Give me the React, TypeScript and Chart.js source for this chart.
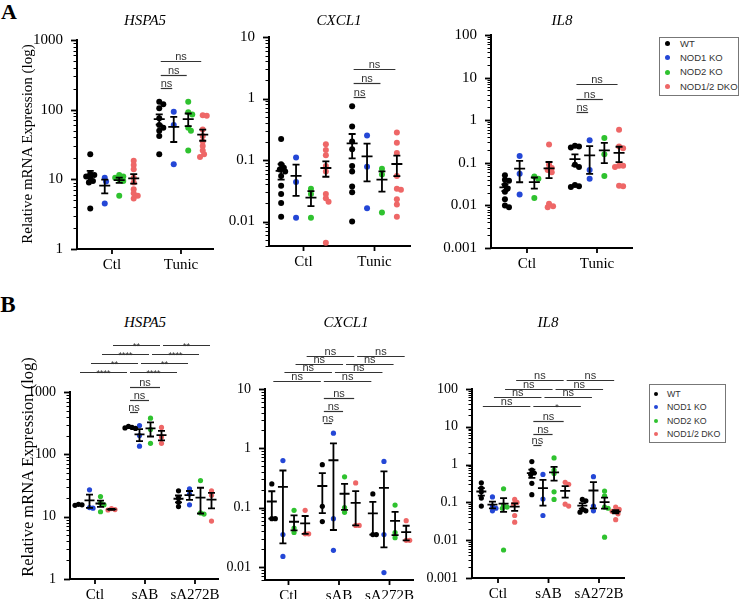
import React, { useEffect, useRef } from 'react';
import { Chart, registerables } from 'chart.js';

Chart.register(...registerables);

const SERIF = '"Liberation Serif", "Times New Roman", Times, serif';
const SANS = '"Liberation Sans", Arial, Helvetica, sans-serif';

const GENOTYPES = ['WT', 'NOD1 KO', 'NOD2 KO', 'NOD1/2 DKO'];
const COLORS = ['#000000', '#2447d6', '#2fc22f', '#ee6767'];

const CATS_A = ['Ctl', 'Tunic'];
const CATS_B = ['Ctl', 'sAB', 'sA272B'];

const TICKS_HSPA5 = [1, 10, 100, 1000];
const TICKS_CXCL1_A = [0.01, 0.1, 1, 10];
const TICKS_CXCL1_B = [0.01, 0.1, 1, 10];
const TICKS_IL8 = [0.001, 0.01, 0.1, 1, 10, 100];

// ---- Panel A: HSPA5 (per genotype: [Ctl, Tunic]) ----
const aHspa5Wt = [[23, 12, 11.5, 11, 10.5, 9.5, 9, 3.8], [130, 120, 105, 75, 60, 55, 50, 42, 23]];
const aHspa5Nod1 = [[10.5, 9.3, 4.5], [93, 60, 16.5]];
const aHspa5Nod2 = [[11.5, 11, 10.5, 10, 9.5, 5.8], [130, 92, 85, 55, 50, 26]];
const aHspa5Dko = [[18.5, 16, 14, 10.5, 9, 7.2, 6.3, 5.8, 5.3], [83, 82, 52, 42, 35, 30, 26, 23, 21]];

// ---- Panel A: CXCL1 ----
const aCxcl1Wt = [[0.22, 0.085, 0.075, 0.07, 0.065, 0.055, 0.038, 0.028, 0.02, 0.012], [0.75, 0.35, 0.2, 0.15, 0.08, 0.065, 0.037, 0.03, 0.01]];
const aCxcl1Nod1 = [[0.11, 0.044, 0.0115], [0.25, 0.078, 0.0165]];
const aCxcl1Nod2 = [[0.034, 0.028, 0.0115], [0.072, 0.058, 0.014]];
const aCxcl1Dko = [[0.18, 0.145, 0.12, 0.08, 0.065, 0.028, 0.024, 0.021, 0.0045], [0.28, 0.19, 0.13, 0.055, 0.034, 0.033, 0.023, 0.019, 0.012]];

// ---- Panel A: IL8 ----
const aIl8Wt = [[0.051, 0.04, 0.038, 0.03, 0.025, 0.021, 0.014, 0.01, 0.009], [0.25, 0.24, 0.23, 0.09, 0.08, 0.03, 0.028, 0.027]];
const aIl8Nod1 = [[0.145, 0.055, 0.018], [0.34, 0.068, 0.042]];
const aIl8Nod2 = [[0.048, 0.042, 0.015], [0.38, 0.158, 0.049]];
const aIl8Dko = [[0.27, 0.09, 0.075, 0.068, 0.06, 0.011, 0.0095, 0.009], [0.6, 0.24, 0.22, 0.085, 0.085, 0.08, 0.029, 0.028]];

// ---- Panel B: HSPA5 (per genotype: [Ctl, sAB, sA272B]) ----
const bHspa5Wt = [[15.8, 15.5, 15.2], [280, 270, 265, 260], [26, 20, 17, 14.5]];
const bHspa5Nod1 = [[27, 14, 13.7], [290, 200, 135], [28, 23, 15.5]];
const bHspa5Nod2 = [[21, 16.5, 15.5, 12], [380, 250, 150], [38, 11.5, 11]];
const bHspa5Dko = [[13.5, 13, 12.8], [270, 190, 150], [26, 22, 8.5]];

// ---- Panel B: CXCL1 ----
const bCxcl1Wt = [[0.25, 0.065, 0.065], [0.53, 0.105, 0.058], [0.17, 0.035, 0.035]];
const bCxcl1Nod1 = [[0.62, 0.035, 0.015], [1.8, 0.065, 0.019], [0.6, 0.035, 0.008]];
const bCxcl1Nod2 = [[0.09, 0.045, 0.038], [0.33, 0.1, 0.083], [0.11, 0.038, 0.031]];
const bCxcl1Dko = [[0.09, 0.036, 0.036], [0.26, 0.05, 0.05], [0.06, 0.028, 0.028]];

// ---- Panel B: IL8 ----
const bIl8Wt = [[0.33, 0.24, 0.19, 0.13, 0.08], [1.2, 0.72, 0.6, 0.55, 0.32, 0.16], [0.12, 0.11, 0.065, 0.06, 0.055]];
const bIl8Nod1 = [[0.14, 0.08, 0.07, 0.06], [0.55, 0.123, 0.045], [0.48, 0.08, 0.06]];
const bIl8Nod2 = [[0.23, 0.085, 0.075, 0.07, 0.0055], [1.5, 0.72, 0.58, 0.19, 0.12], [0.2, 0.15, 0.075, 0.07, 0.012]];
const bIl8Dko = [[0.12, 0.1, 0.09, 0.045, 0.03], [0.34, 0.3, 0.09, 0.08], [0.075, 0.065, 0.06, 0.058, 0.05, 0.035]];

// significance labels
const SIG_B_HSPA5 = [['****', '****'], ['**', '**'], ['****', '****'], ['**', '**']];
const SIG_B_CXCL1 = [['ns', 'ns'], ['ns', 'ns'], ['ns', 'ns'], ['ns', 'ns']];
const SIG_B_IL8 = [['ns', '*'], ['ns', 'ns'], ['ns', 'ns'], ['ns', 'ns']];

type Bracket = { a: [number, number]; b: [number, number]; dy: number; label: string };

const OFFSETS_A = [-0.315, -0.105, 0.105, 0.315];
const OFFSETS_B = [-0.33, -0.11, 0.11, 0.33];

function bracketsA(rows: number[]): Bracket[] {
  return [1, 2, 3].map((g, i) => ({ a: [1, 0], b: [1, g], dy: rows[i], label: 'ns' }));
}

function bracketsB(nsRows: number[], rows: number[], labels: string[][]): Bracket[] {
  const out: Bracket[] = [];
  [1, 2, 3].forEach((g, i) => out.push({ a: [1, 0], b: [1, g], dy: nsRows[i], label: 'ns' }));
  for (let k = 0; k < 4; k++) {
    out.push({ a: [0, k], b: [1, k], dy: rows[k], label: labels[k][0] });
    out.push({ a: [1, k], b: [2, k], dy: rows[k], label: labels[k][1] });
  }
  return out;
}

type PanelCfg = {
  key: string;
  plot: { l: number; t: number; r: number; b: number };
  xMin: number; xMax: number; yMin: number; yMax: number;
  yTicks: number[];
  cats: string[];
  series: number[][][];
  offsets: number[];
  radius: number;
  yFont: number; xFont: number;
  padTop: number;
  brackets: Bracket[];
  meanHalf: number; capHalf: number;
};

const PANELS: PanelCfg[] = [
  {
    key: 'aHspa5', plot: { l: 77, t: 40, r: 213, b: 249 }, xMin: -0.507, xMax: 1.464, yMin: 1, yMax: 1000,
    yTicks: TICKS_HSPA5, cats: CATS_A, series: [aHspa5Wt, aHspa5Nod1, aHspa5Nod2, aHspa5Dko], offsets: OFFSETS_A,
    radius: 3, yFont: 15, xFont: 15, padTop: 40, brackets: bracketsA([48, 35, 21]), meanHalf: 5.5, capHalf: 3.5,
  },
  {
    key: 'aCxcl1', plot: { l: 269, t: 37, r: 410, b: 246 }, xMin: -0.486, xMax: 1.5, yMin: 0.004, yMax: 10,
    yTicks: TICKS_CXCL1_A, cats: CATS_A, series: [aCxcl1Wt, aCxcl1Nod1, aCxcl1Nod2, aCxcl1Dko], offsets: OFFSETS_A,
    radius: 3, yFont: 15, xFont: 15, padTop: 37, brackets: bracketsA([60, 46, 32]), meanHalf: 5.5, capHalf: 3.5,
  },
  {
    key: 'aIl8', plot: { l: 491, t: 35, r: 632, b: 248 }, xMin: -0.514, xMax: 1.5, yMin: 0.001, yMax: 100,
    yTicks: TICKS_IL8, cats: CATS_A, series: [aIl8Wt, aIl8Nod1, aIl8Nod2, aIl8Dko], offsets: OFFSETS_A,
    radius: 3, yFont: 15, xFont: 15, padTop: 35, brackets: bracketsA([77, 64, 49]), meanHalf: 5.5, capHalf: 3.5,
  },
  {
    key: 'bHspa5', plot: { l: 70, t: 392, r: 218, b: 579 }, xMin: -0.5, xMax: 2.46, yMin: 1, yMax: 1000,
    yTicks: TICKS_HSPA5, cats: CATS_B, series: [bHspa5Wt, bHspa5Nod1, bHspa5Nod2, bHspa5Dko], offsets: OFFSETS_B,
    radius: 2.6, yFont: 14, xFont: 15, padTop: 60, brackets: bracketsB([20, 8, -5], [-20, -29, -38, -47], SIG_B_HSPA5),
    meanHalf: 5, capHalf: 3.5,
  },
  {
    key: 'bCxcl1', plot: { l: 265, t: 389, r: 413, b: 580 }, xMin: -0.465, xMax: 2.465, yMin: 0.006, yMax: 10,
    yTicks: TICKS_CXCL1_B, cats: CATS_B, series: [bCxcl1Wt, bCxcl1Nod1, bCxcl1Nod2, bCxcl1Dko], offsets: OFFSETS_B,
    radius: 2.6, yFont: 14, xFont: 15, padTop: 60, brackets: bracketsB([34, 22, 9], [-8, -17, -25, -33], SIG_B_CXCL1),
    meanHalf: 5, capHalf: 3.5,
  },
  {
    key: 'bIl8', plot: { l: 472, t: 389, r: 624, b: 578 }, xMin: -0.515, xMax: 2.495, yMin: 0.001, yMax: 100,
    yTicks: TICKS_IL8, cats: CATS_B, series: [bIl8Wt, bIl8Nod1, bIl8Nod2, bIl8Dko], offsets: OFFSETS_B,
    radius: 2.6, yFont: 14, xFont: 15, padTop: 60, brackets: bracketsB([56, 45, 32], [17, 8, 0, -9], SIG_B_IL8),
    meanHalf: 5, capHalf: 3.5,
  },
];

const Y_AXIS_W = 50;
const X_AXIS_H = 40;
const PAD_R = 35;

function fmtTick(v: number): string {
  const e = Math.round(Math.log10(v));
  if (Math.abs(Math.log10(v) - e) > 1e-6) return '';
  return e >= 0 ? String(Math.pow(10, e)) : Math.pow(10, e).toFixed(-e);
}

function meanSem(vals: number[]) {
  const n = vals.length;
  const m = vals.reduce((s, v) => s + v, 0) / n;
  const sd = Math.sqrt(vals.reduce((s, v) => s + (v - m) * (v - m), 0) / (n - 1));
  return { m, sem: sd / Math.sqrt(n) };
}

function makeExtras(cfg: PanelCfg) {
  return {
    id: 'extras_' + cfg.key,
    afterDatasetsDraw(chart: any) {
      const ctx = chart.ctx as CanvasRenderingContext2D;
      const xs = chart.scales.x;
      const ys = chart.scales.y;
      ctx.save();
      ctx.strokeStyle = '#000';
      ctx.lineWidth = 1.8;
      cfg.series.forEach((groups, si) => {
        groups.forEach((vals, gi) => {
          const { m, sem } = meanSem(vals);
          const x = xs.getPixelForValue(gi + cfg.offsets[si]);
          const yT = ys.getPixelForValue(m + sem);
          const yB = ys.getPixelForValue(Math.max(m - sem, ys.min));
          const yM = ys.getPixelForValue(m);
          ctx.beginPath();
          ctx.moveTo(x, yT); ctx.lineTo(x, yB);
          ctx.moveTo(x - cfg.capHalf, yT); ctx.lineTo(x + cfg.capHalf, yT);
          ctx.moveTo(x - cfg.capHalf, yB); ctx.lineTo(x + cfg.capHalf, yB);
          ctx.moveTo(x - cfg.meanHalf, yM); ctx.lineTo(x + cfg.meanHalf, yM);
          ctx.stroke();
        });
      });
      ctx.restore();
    },
    afterDraw(chart: any) {
      const ctx = chart.ctx as CanvasRenderingContext2D;
      const xs = chart.scales.x;
      const ys = chart.scales.y;
      const ca = chart.chartArea;
      ctx.save();
      ctx.strokeStyle = '#000';
      const lo = Math.floor(Math.log10(cfg.yMin) - 1e-9);
      const hi = Math.ceil(Math.log10(cfg.yMax) + 1e-9);
      for (let e = lo; e <= hi; e++) {
        for (let k = 1; k <= 9; k++) {
          const v = k * Math.pow(10, e);
          if (v < cfg.yMin * 0.999 || v > cfg.yMax * 1.001) continue;
          const y = Math.round(ys.getPixelForValue(v)) + 0.5;
          ctx.lineWidth = k === 1 ? 1.8 : 1;
          ctx.beginPath();
          ctx.moveTo(ca.left - (k === 1 ? 6 : 3.5), y);
          ctx.lineTo(ca.left, y);
          ctx.stroke();
        }
      }
      ctx.lineWidth = 1.8;
      cfg.cats.forEach((_, i) => {
        const x = xs.getPixelForValue(i);
        ctx.beginPath();
        ctx.moveTo(x, ca.bottom);
        ctx.lineTo(x, ca.bottom + 5);
        ctx.stroke();
      });
      cfg.brackets.forEach((br) => {
        const x1 = xs.getPixelForValue(br.a[0] + cfg.offsets[br.a[1]]) + 1.5;
        const x2 = xs.getPixelForValue(br.b[0] + cfg.offsets[br.b[1]]) - 1.5;
        const y = Math.round(ca.top + br.dy) + 0.5;
        ctx.strokeStyle = '#333';
        ctx.lineWidth = 1.2;
        ctx.beginPath();
        ctx.moveTo(x1, y);
        ctx.lineTo(x2, y);
        ctx.stroke();
        const isStar = br.label.indexOf('*') >= 0;
        ctx.fillStyle = '#333';
        ctx.font = isStar ? `9px ${SANS}` : `11px ${SANS}`;
        ctx.textAlign = 'center';
        ctx.textBaseline = 'alphabetic';
        ctx.fillText(br.label, (x1 + x2) / 2, isStar ? y + 3 : y - 2);
      });
      ctx.restore();
    },
  };
}

function spreadColumn(values: number[], r: number, pxPerDec: number, pxPerUnit: number): number[] {
  const order = values.map((_, i) => i).sort((i, j) => values[j] - values[i]);
  const placed: { x: number; y: number }[] = [];
  const out = new Array(values.length).fill(0);
  const minD = r * 1.3;
  for (const i of order) {
    const y = Math.log10(values[i]) * pxPerDec;
    let x = 0;
    for (let k = 0; k < 60; k++) {
      const cand = k === 0 ? 0 : (k % 2 ? 1 : -1) * Math.ceil(k / 2) * r * 0.45;
      if (placed.every((p) => Math.hypot(p.x - cand, p.y - y) >= minD)) { x = cand; break; }
    }
    placed.push({ x, y });
    out[i] = x / pxPerUnit;
  }
  return out;
}

function buildConfig(cfg: PanelCfg): any {
  const { plot } = cfg;
  const pxPerDec = (plot.b - plot.t) / (Math.log10(cfg.yMax) - Math.log10(cfg.yMin));
  const pxPerUnit = (plot.r - plot.l) / (cfg.xMax - cfg.xMin);
  const datasets = cfg.series.map((groups, si) => {
    const data: { x: number; y: number }[] = [];
    groups.forEach((vals, gi) => {
      const jit = spreadColumn(vals, cfg.radius, pxPerDec, pxPerUnit);
      vals.forEach((v, vi) => data.push({ x: gi + cfg.offsets[si] + jit[vi], y: v }));
    });
    return {
      label: GENOTYPES[si],
      data,
      showLine: false,
      pointRadius: cfg.radius,
      pointBorderWidth: 0,
      pointBackgroundColor: COLORS[si],
      pointBorderColor: COLORS[si],
      backgroundColor: COLORS[si],
      borderColor: COLORS[si],
    };
  });
  return {
    type: 'scatter',
    data: { datasets },
    options: {
      responsive: false,
      maintainAspectRatio: false,
      animation: false,
      events: [],
      layout: { padding: { top: cfg.padTop, right: PAD_R, bottom: 0, left: 0 } },
      plugins: { legend: { display: false }, tooltip: { enabled: false }, title: { display: false } },
      scales: {
        x: {
          type: 'linear',
          min: cfg.xMin,
          max: cfg.xMax,
          afterBuildTicks: (ax: any) => { ax.ticks = cfg.cats.map((_, i) => ({ value: i })); },
          afterFit: (ax: any) => { ax.height = X_AXIS_H; },
          grid: { display: false },
          border: { display: true, color: '#000', width: 2 },
          ticks: {
            autoSkip: false,
            maxRotation: 0,
            padding: -1,
            color: '#000',
            font: { family: SERIF, size: cfg.xFont },
            callback: (v: number) => cfg.cats[Math.round(v)] ?? '',
          },
        },
        y: {
          type: 'logarithmic',
          min: cfg.yMin,
          max: cfg.yMax,
          afterBuildTicks: (ax: any) => { ax.ticks = cfg.yTicks.map((v) => ({ value: v })); },
          afterFit: (ax: any) => { ax.width = Y_AXIS_W; },
          grid: { display: false },
          border: { display: true, color: '#000', width: 2 },
          ticks: {
            autoSkip: false,
            padding: 6,
            color: '#000',
            font: { family: SERIF, size: cfg.yFont },
            callback: (v: number) => fmtTick(v),
          },
        },
      },
    },
    plugins: [makeExtras(cfg)],
  };
}

function Panel({ cfg }: { cfg: PanelCfg }) {
  const ref = useRef<HTMLCanvasElement>(null);
  const { plot } = cfg;
  const left = plot.l - Y_AXIS_W;
  const top = plot.t - cfg.padTop;
  const w = Y_AXIS_W + (plot.r - plot.l) + PAD_R;
  const h = cfg.padTop + (plot.b - plot.t) + X_AXIS_H;
  useEffect(() => {
    const chart = new Chart(ref.current as HTMLCanvasElement, buildConfig(cfg));
    return () => chart.destroy();
  }, [cfg]);
  return (
    <canvas
      ref={ref}
      width={w}
      height={h}
      style={{ position: 'absolute', left, top, width: w, height: h, display: 'block' }}
    />
  );
}

function Text({ x, y, children, style }: { x: number; y: number; children: React.ReactNode; style?: React.CSSProperties }) {
  return (
    <div
      style={{
        position: 'absolute', left: x, top: y, transform: 'translate(-50%, -50%)',
        whiteSpace: 'nowrap', lineHeight: 1, ...style,
      }}
    >
      {children}
    </div>
  );
}

function Legend({ left, top, w, h, dotX, textX, rows, font, r }: {
  left: number; top: number; w: number; h: number; dotX: number; textX: number; rows: number[]; font: number; r: number;
}) {
  return (
    <div style={{ position: 'absolute', left, top, width: w, height: h, border: '1px solid #777', boxSizing: 'border-box', background: '#fff' }}>
      {GENOTYPES.map((g, i) => (
        <React.Fragment key={g}>
          <div style={{ position: 'absolute', left: dotX - r - 1, top: rows[i] - r - 1, width: r * 2, height: r * 2, borderRadius: '50%', background: COLORS[i] }} />
          <div style={{ position: 'absolute', left: textX - 1, top: rows[i] - 1, transform: 'translateY(-50%)', fontFamily: SANS, fontSize: font, color: '#333', whiteSpace: 'nowrap', lineHeight: 1 }}>{g}</div>
        </React.Fragment>
      ))}
    </div>
  );
}

export default function App() {
  const titleStyle: React.CSSProperties = { fontFamily: SERIF, fontStyle: 'italic', fontSize: 15, color: '#000' };
  return (
    <div style={{ position: 'absolute', left: 0, top: 0, width: 745, height: 599, overflow: 'hidden', background: '#fff' }}>
      {PANELS.map((p) => <Panel key={p.key} cfg={p} />)}
      <Text x={9} y={12} style={{ fontFamily: SERIF, fontWeight: 'bold', fontSize: 22 }}>A</Text>
      <Text x={8} y={304} style={{ fontFamily: SERIF, fontWeight: 'bold', fontSize: 23 }}>B</Text>
      <Text x={145} y={20} style={titleStyle}>HSPA5</Text>
      <Text x={339} y={20} style={titleStyle}>CXCL1</Text>
      <Text x={562} y={20} style={titleStyle}>IL8</Text>
      <Text x={145} y={322} style={titleStyle}>HSPA5</Text>
      <Text x={346} y={322} style={titleStyle}>CXCL1</Text>
      <Text x={548} y={322} style={titleStyle}>IL8</Text>
      <Text x={27} y={144} style={{ fontFamily: SERIF, fontSize: 15, transform: 'translate(-50%, -50%) rotate(-90deg)' }}>Relative mRNA Expression (log)</Text>
      <Text x={28} y={467} style={{ fontFamily: SERIF, fontSize: 16.5, transform: 'translate(-50%, -50%) rotate(-90deg)' }}>Relative mRNA Expression (log)</Text>
      <Legend left={659} top={37} w={80} h={59} dotX={8} textX={21} rows={[6.5, 20.8, 35, 49.5]} font={9.5} r={2.5} />
      <Legend left={649} top={384} w={77} h={59} dotX={7} textX={18} rows={[10, 23, 37, 50]} font={8.8} r={2.3} />
    </div>
  );
}
